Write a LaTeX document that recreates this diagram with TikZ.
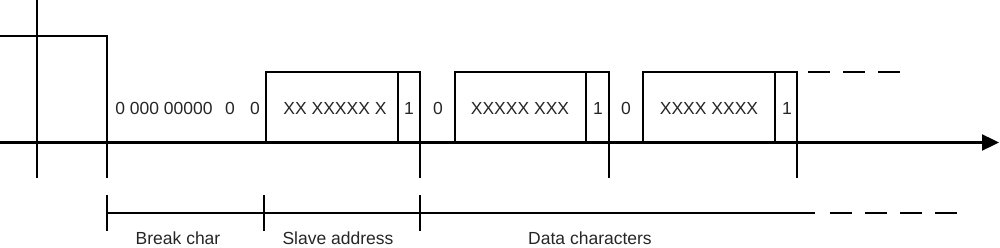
\documentclass[tikz,border=0pt]{standalone}
\usepackage{fontspec}
\setmainfont{Liberation Sans}
\usetikzlibrary{arrows.meta}
\begin{document}
\begin{tikzpicture}[x=1pt,y=-1pt,
  sig/.style={line width=2.3pt,black},
  dsh/.style={line width=2.3pt,black,dash pattern=on 22pt off 13pt},
  lbl/.style={anchor=base,inner sep=0pt,text=black!85,font=\fontsize{17.5}{20}\selectfont}]
\useasboundingbox (0,0) rectangle (1000,248);
% coordinates
\coordinate (b0) at (0,142.5);
\coordinate (b1) at (999,142.5);
% axis
\draw[sig,-{Triangle[length=17pt,width=16pt]}] (b0) -- (b1);
% left reference and high level
\draw[sig] (37,0) -- (37,178);
\draw[sig] (0,36) -- (107,36) -- (107,178);
% slave address frame
\draw[sig] (266,142.5) -- (266,72) -- (420,72) -- (420,178);
\draw[sig] (398,72) -- (398,142.5);
% data frame 1
\draw[sig] (455,142.5) -- (455,72) -- (609,72) -- (609,178);
\draw[sig] (586,72) -- (586,142.5);
% data frame 2
\draw[sig] (643,142.5) -- (643,72) -- (797,72) -- (797,178);
\draw[sig] (775,72) -- (775,142.5);
\draw[dsh] (808,72) -- (901,72);
% bracket row
\coordinate (t1) at (107,213);
\coordinate (t2) at (264,213);
\coordinate (t3) at (420,213);
\coordinate (t4) at (815,213);
\draw[sig] (t1) -- (t4);
\draw[dsh] (830,213) -- (958,213);
\foreach \c in {t1,t2,t3} \draw[sig] ([yshift=-18pt]\c) -- ([yshift=18pt]\c);
% bit texts
\node[lbl] (z1) at (164,114.5) {0 000 00000};
\node[lbl] (z2) at (230,114.5) {0};
\node[lbl] (z3) at (255,114.5) {0};
\node[lbl] (sa) at (335,114.5) {XX XXXXX X};
\node[lbl] (s1) at (409,114.5) {1};
\node[lbl] (z4) at (438,114.5) {0};
\node[lbl] (d1) at (520,114.5) {XXXXX XXX};
\node[lbl] (s2) at (598,114.5) {1};
\node[lbl] (z5) at (626,114.5) {0};
\node[lbl] (d2) at (709,114.5) {XXXX XXXX};
\node[lbl] (s3) at (787,114.5) {1};
% labels
\node[lbl] (l1) at (178,244) {Break char};
\node[lbl] (l2) at (338,244) {Slave address};
\node[lbl] (l3) at (590,244) {Data characters};
\end{tikzpicture}
\end{document}
